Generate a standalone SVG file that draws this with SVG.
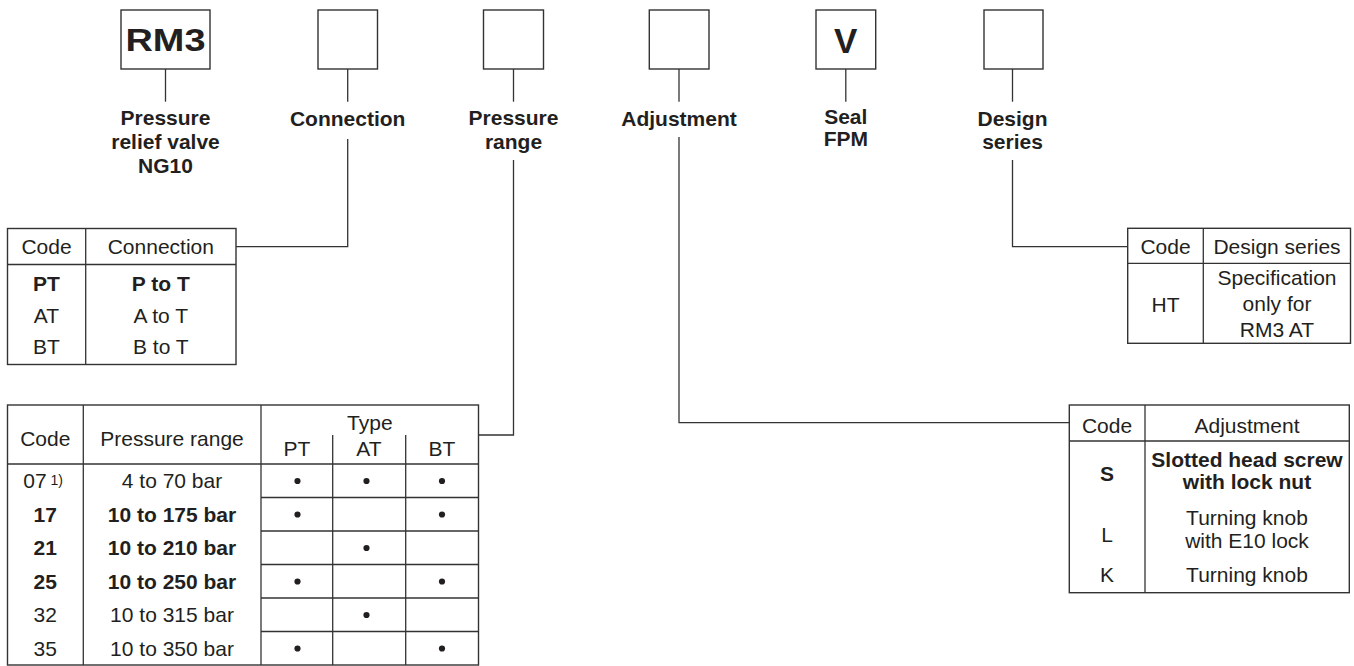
<svg xmlns="http://www.w3.org/2000/svg" width="1354" height="666" viewBox="0 0 1354 666">
<style>
.bg{fill:#fff}
.box{fill:none;stroke:#333;stroke-width:1.4}
.ln{fill:none;stroke:#333;stroke-width:1.3}
text{font-family:"Liberation Sans",Arial,Helvetica,sans-serif;fill:#231f20;text-anchor:middle}
.lbl{font-size:21px;font-weight:bold}
.big{font-size:32px;font-weight:bold}
.t{font-size:21px}
.tb{font-size:21px;font-weight:bold}
.sup{font-size:14px;text-anchor:start}
.dot{fill:#231f20}
</style>
<rect class="bg" x="0" y="0" width="1354" height="666"/>

<g id="node-rm3">
<rect class="box" x="121" y="10" width="89" height="59"/>
<text class="big" x="165.5" y="50.5" textLength="80" lengthAdjust="spacingAndGlyphs">RM3</text>
<text class="lbl" x="165.5" y="125">Pressure</text>
<text class="lbl" x="165.5" y="149">relief valve</text>
<text class="lbl" x="165.5" y="173">NG10</text>
</g>
<g id="node-connection">
<rect class="box" x="318" y="10" width="59.5" height="59"/>
<text class="lbl" x="347.7" y="126">Connection</text>
</g>
<g id="node-pressure">
<rect class="box" x="483.5" y="10" width="60" height="59"/>
<text class="lbl" x="513.5" y="125">Pressure</text>
<text class="lbl" x="513.5" y="149">range</text>
</g>
<g id="node-adjustment">
<rect class="box" x="649.3" y="10" width="59.7" height="59"/>
<text class="lbl" x="679" y="126">Adjustment</text>
</g>
<g id="node-seal">
<rect class="box" x="816" y="10" width="59.7" height="59"/>
<text class="big" x="845.8" y="53" style="font-size:35px">V</text>
<text class="lbl" x="845.8" y="124">Seal</text>
<text class="lbl" x="845.8" y="146">FPM</text>
</g>
<g id="node-design">
<rect class="box" x="984" y="10" width="59" height="59"/>
<text class="lbl" x="1012.5" y="126">Design</text>
<text class="lbl" x="1012.5" y="149">series</text>
</g>

<g id="connectors">
<line class="ln" x1="165.5" y1="69" x2="165.5" y2="101.7"/>
<line class="ln" x1="347.7" y1="69" x2="347.7" y2="101.7"/>
<line class="ln" x1="513.5" y1="69" x2="513.5" y2="101.7"/>
<line class="ln" x1="679" y1="69" x2="679" y2="101.7"/>
<line class="ln" x1="845.8" y1="69" x2="845.8" y2="101.7"/>
<line class="ln" x1="1012.5" y1="69" x2="1012.5" y2="101.7"/>
<polyline class="ln" points="347.7,139 347.7,246.7 236,246.7"/>
<polyline class="ln" points="513.5,160 513.5,435 478.5,435"/>
<polyline class="ln" points="679,137 679,422.7 1069.3,422.7"/>
<polyline class="ln" points="1012.5,160 1012.5,246.7 1127.7,246.7"/>
</g>

<g id="table-connection">
<rect class="box" x="7.5" y="228.5" width="228.5" height="136"/>
<line class="ln" x1="7.5" y1="264.5" x2="236" y2="264.5"/>
<line class="ln" x1="85.7" y1="228.5" x2="85.7" y2="364.5"/>
<text class="t" x="46.5" y="254">Code</text>
<text class="t" x="160.8" y="254">Connection</text>
<text class="tb" x="46.5" y="291">PT</text>
<text class="tb" x="160.8" y="291">P to T</text>
<text class="t" x="46.5" y="322.5">AT</text>
<text class="t" x="160.8" y="322.5">A to T</text>
<text class="t" x="46.5" y="353.5">BT</text>
<text class="t" x="160.8" y="353.5">B to T</text>
</g>

<g id="table-pressure">
<rect class="box" x="7.5" y="405" width="471" height="260"/>
<line class="ln" x1="7.5" y1="464" x2="478.5" y2="464"/>
<line class="ln" x1="83.3" y1="405" x2="83.3" y2="665"/>
<line class="ln" x1="261" y1="405" x2="261" y2="665"/>
<line class="ln" x1="332.7" y1="435" x2="332.7" y2="665"/>
<line class="ln" x1="405.7" y1="435" x2="405.7" y2="665"/>
<line class="ln" x1="261" y1="497.5" x2="478.5" y2="497.5"/>
<line class="ln" x1="261" y1="531" x2="478.5" y2="531"/>
<line class="ln" x1="261" y1="564.5" x2="478.5" y2="564.5"/>
<line class="ln" x1="261" y1="598" x2="478.5" y2="598"/>
<line class="ln" x1="261" y1="631.5" x2="478.5" y2="631.5"/>
<text class="t" x="45.3" y="445.5">Code</text>
<text class="t" x="172" y="445.5">Pressure range</text>
<text class="t" x="369.8" y="429.5">Type</text>
<text class="t" x="297" y="456">PT</text>
<text class="t" x="369" y="456">AT</text>
<text class="t" x="442" y="456">BT</text>
<text class="t" x="35" y="488.3">07</text>
<text class="sup" x="50.5" y="485">1)</text>
<text class="t" x="172" y="488.3">4 to 70 bar</text>
<text class="tb" x="45.3" y="521.8">17</text>
<text class="tb" x="172" y="521.8">10 to 175 bar</text>
<text class="tb" x="45.3" y="555.3">21</text>
<text class="tb" x="172" y="555.3">10 to 210 bar</text>
<text class="tb" x="45.3" y="588.8">25</text>
<text class="tb" x="172" y="588.8">10 to 250 bar</text>
<text class="t" x="45.3" y="622.3">32</text>
<text class="t" x="172" y="622.3">10 to 315 bar</text>
<text class="t" x="45.3" y="655.8">35</text>
<text class="t" x="172" y="655.8">10 to 350 bar</text>
<circle class="dot" cx="297.5" cy="481" r="3.1"/>
<circle class="dot" cx="366.5" cy="481" r="3.1"/>
<circle class="dot" cx="442" cy="481" r="3.1"/>
<circle class="dot" cx="297.5" cy="514.5" r="3.1"/>
<circle class="dot" cx="442" cy="514.5" r="3.1"/>
<circle class="dot" cx="366.5" cy="548" r="3.1"/>
<circle class="dot" cx="297.5" cy="581.5" r="3.1"/>
<circle class="dot" cx="442" cy="581.5" r="3.1"/>
<circle class="dot" cx="366.5" cy="615" r="3.1"/>
<circle class="dot" cx="297.5" cy="648.5" r="3.1"/>
<circle class="dot" cx="442" cy="648.5" r="3.1"/>
</g>

<g id="table-adjustment">
<rect class="box" x="1069.3" y="405" width="280" height="187.7"/>
<line class="ln" x1="1069.3" y1="441" x2="1349.3" y2="441"/>
<line class="ln" x1="1145" y1="405" x2="1145" y2="592.7"/>
<text class="t" x="1107" y="432.5">Code</text>
<text class="t" x="1247" y="432.5">Adjustment</text>
<text class="tb" x="1107" y="481">S</text>
<text class="tb" x="1247" y="466.7">Slotted head screw</text>
<text class="tb" x="1247" y="489.3">with lock nut</text>
<text class="t" x="1107" y="541.7">L</text>
<text class="t" x="1247" y="524.5">Turning knob</text>
<text class="t" x="1247" y="548.3">with E10 lock</text>
<text class="t" x="1107" y="581.7">K</text>
<text class="t" x="1247" y="581.7">Turning knob</text>
</g>

<g id="table-design">
<rect class="box" x="1127.7" y="228.3" width="222.8" height="115"/>
<line class="ln" x1="1127.7" y1="263.3" x2="1350.5" y2="263.3"/>
<line class="ln" x1="1203.3" y1="228.3" x2="1203.3" y2="343.3"/>
<text class="t" x="1165.5" y="254">Code</text>
<text class="t" x="1277" y="254">Design series</text>
<text class="t" x="1165.5" y="311.7">HT</text>
<text class="t" x="1277" y="285.3">Specification</text>
<text class="t" x="1277" y="311">only for</text>
<text class="t" x="1277" y="336.7">RM3 AT</text>
</g>
</svg>
